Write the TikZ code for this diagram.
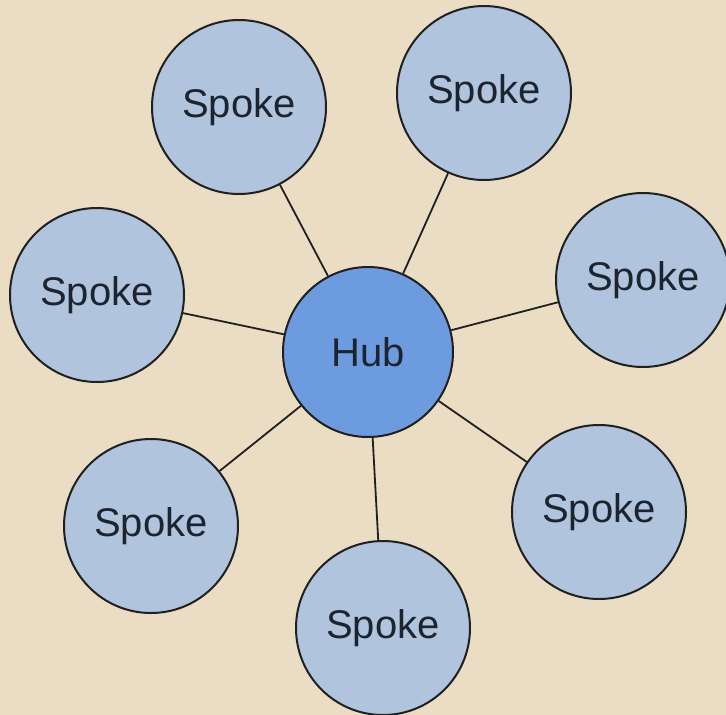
\documentclass[tikz,border=0pt]{standalone}
\usepackage{fontspec}
\setmainfont{Liberation Sans}
\definecolor{bgtan}{HTML}{EADDC4}
\definecolor{spokefill}{HTML}{B0C4DE}
\definecolor{hubfill}{HTML}{6C9BDF}
\definecolor{inkdark}{HTML}{1C2430}
\definecolor{edgegray}{HTML}{202020}
\begin{document}
\begin{tikzpicture}[x=1pt,y=-1pt,
  bubble/.style={circle,draw=edgegray,line width=2pt,inner sep=0pt,
    text=inkdark,font=\fontsize{40}{48}\selectfont},
  spokenode/.style={bubble,fill=spokefill,minimum size=174pt},
  hubnode/.style={bubble,fill=hubfill,minimum size=170pt},
  link/.style={draw=edgegray,line width=1.8pt}]
  \fill[bgtan] (0,0) rectangle (726,715);
  \useasboundingbox (0,0) rectangle (726,715);

  \node[hubnode] (hub) at (368,352) {Hub};

  \node[spokenode] (s1) at (239,107) {Spoke};
  \node[spokenode] (s2) at (484,93) {Spoke};
  \node[spokenode] (s3) at (97,295) {Spoke};
  \node[spokenode] (s4) at (643,280) {Spoke};
  \node[spokenode] (s5) at (151,526) {Spoke};
  \node[spokenode] (s6) at (599,512) {Spoke};
  \node[spokenode] (s7) at (383,628) {Spoke};

  \foreach \s in {s1,s2,s3,s4,s5,s6,s7}
    \draw[link] (hub) -- (\s);
\end{tikzpicture}
\end{document}
